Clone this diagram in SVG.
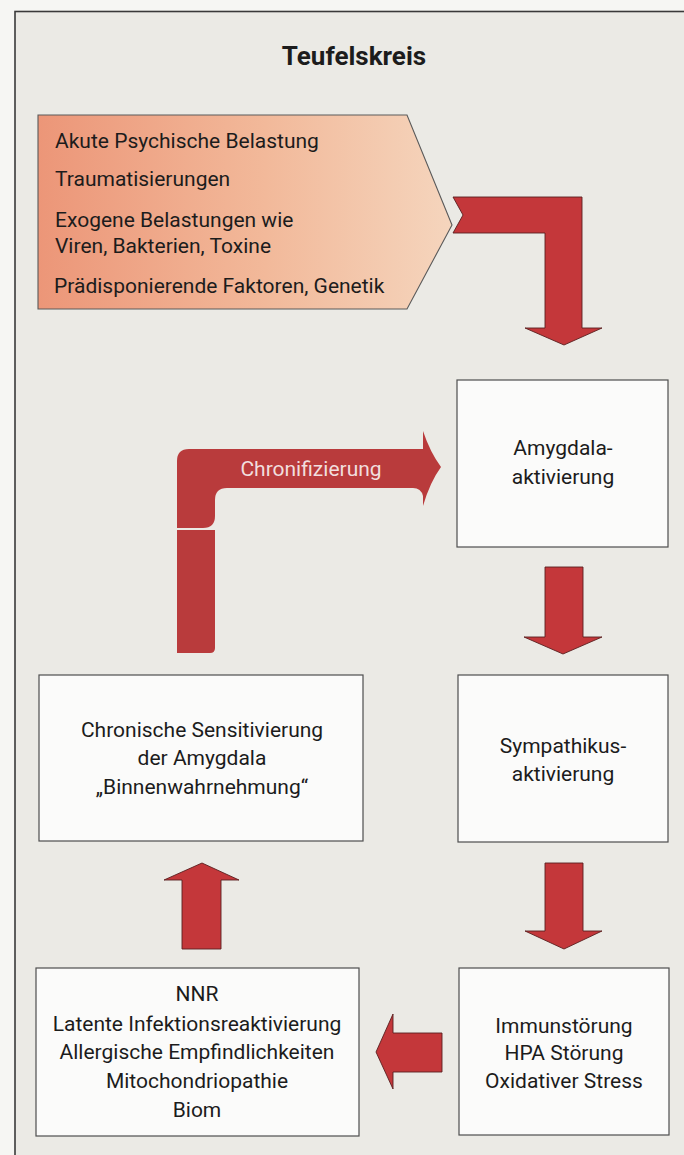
<svg xmlns="http://www.w3.org/2000/svg" width="684" height="1155" viewBox="0 0 684 1155">
<defs>
<linearGradient id="peach" x1="0" y1="0" x2="1" y2="0">
<stop offset="0" stop-color="#ec9678"/>
<stop offset="0.55" stop-color="#f2b99a"/>
<stop offset="1" stop-color="#f5d5bd"/>
</linearGradient>
</defs>
<style>
text{font-family:Roboto,"Liberation Sans",sans-serif;fill:#1c1c1c;font-size:21px}
.c{text-anchor:middle}
.box{fill:#fbfbfa;stroke:#4e4e4e;stroke-width:1.2}
.arr{fill:#c4373a;stroke:#5a1f1f;stroke-width:0.9;stroke-linejoin:miter}
.chr{fill:#b93b3c}
</style>
<rect x="0" y="0" width="684" height="1155" fill="#f6f6f3"/>
<rect x="15" y="11.5" width="680" height="1160" fill="#ebeae5" stroke="#3a3a3a" stroke-width="1.6"/>
<text x="354" y="65" class="c" style="font-weight:bold;font-size:26px">Teufelskreis</text>

<g id="connectors">
<path id="a1" class="arr" d="M453,197 L582,197 L582,328 L602,328 L564,345 L525,328 L545,328 L545,233 L453,233 L463,215 Z"/>
<path id="a2" class="arr" d="M545,567 L583,567 L583,637 L602,637 L563,654 L524,637 L545,637 Z"/>
<path id="a3" class="arr" d="M545,863 L583,863 L583,931 L602,931 L564,949 L525,931 L545,931 Z"/>
<path id="a4" class="arr" d="M442,1033 L442,1072 L393,1072 L393,1089 L376,1052 L393,1014 L393,1033 Z"/>
<path id="a5" class="arr" d="M182,949 L221,949 L221,880 L239,880 L202,863 L164,880 L182,880 Z"/>
<g id="a6">
<path class="chr" d="M177,528 L177,461 Q177,449 189,449 L423,449 L423,431 Q430,452 441,467 Q430,482 423,506 L423,496 Q421,488 413,488 L227,488 Q215,488 215,500 L215,516 Q215,528 203,528 Z"/>
<path class="chr" d="M177,530 L215,530 L215,648 Q215,653 210,653 L177,653 Z"/>
<text x="311" y="476" class="c" style="fill:#f1dede">Chronifizierung</text>
</g>
</g>

<g id="belastungen">
<path d="M38,115 L407,115 L452,225 L407,309 L38,309 Z" fill="url(#peach)" stroke="#5a5a5a" stroke-width="1.1"/>
<text x="55" y="148">Akute Psychische Belastung</text>
<text x="55" y="186">Traumatisierungen</text>
<text x="55" y="227">Exogene Belastungen wie</text>
<text x="55" y="253">Viren, Bakterien, Toxine</text>
<text x="54" y="293">Prädisponierende Faktoren, Genetik</text>
</g>

<g id="amygdala">
<rect class="box" x="457" y="380" width="211" height="167"/>
<text x="563" y="455" class="c">Amygdala-</text>
<text x="563" y="484" class="c">aktivierung</text>
</g>

<g id="sympathikus">
<rect class="box" x="458" y="675" width="210" height="167"/>
<text x="563" y="753" class="c">Sympathikus-</text>
<text x="563" y="781" class="c">aktivierung</text>
</g>

<g id="immun">
<rect class="box" x="459" y="968" width="210" height="167"/>
<text x="564" y="1033" class="c">Immunstörung</text>
<text x="564" y="1060" class="c">HPA Störung</text>
<text x="564" y="1088" class="c">Oxidativer Stress</text>
</g>

<g id="nnr">
<rect class="box" x="36" y="968" width="323" height="168"/>
<text x="197" y="1001" class="c">NNR</text>
<text x="197" y="1031" class="c">Latente Infektionsreaktivierung</text>
<text x="197" y="1059" class="c">Allergische Empfindlichkeiten</text>
<text x="197" y="1088" class="c">Mitochondriopathie</text>
<text x="197" y="1117" class="c">Biom</text>
</g>

<g id="chronisch">
<rect class="box" x="39" y="675" width="324" height="166"/>
<text x="202" y="737" class="c">Chronische Sensitivierung</text>
<text x="202" y="765" class="c">der Amygdala</text>
<text x="202" y="794" class="c">„Binnenwahrnehmung“</text>
</g>
</svg>
